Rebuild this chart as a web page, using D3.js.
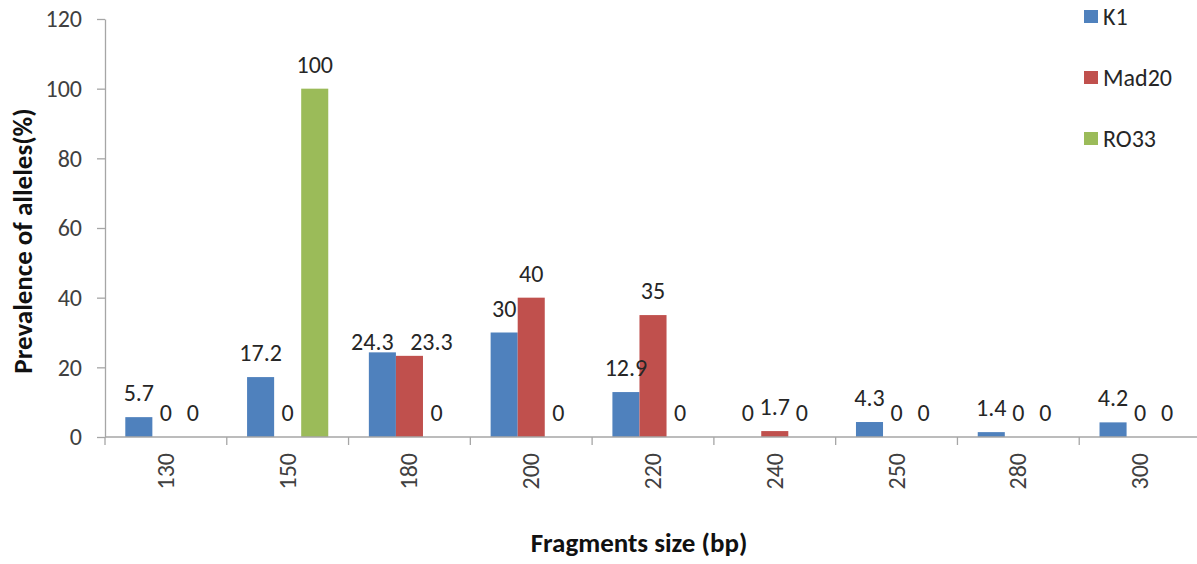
<!DOCTYPE html>
<html>
<head>
<meta charset="utf-8">
<script src="https://cdn.jsdelivr.net/npm/d3@7"></script>
<style>
  html, body { margin: 0; padding: 0; background: #fff; }
  svg { display: block; font-family: Carlito, Lato, "Open Sans", sans-serif; }
</style>
</head>
<body>
<svg id="chart" width="1197" height="564"></svg>
<script>
// Fragment sizes (bp) and allele prevalence (%) per allelic family
const categories = ["130", "150", "180", "200", "220", "240", "250", "280", "300"];
const seriesNames = ["K1", "Mad20", "RO33"];
const k1Values    = [5.7, 17.2, 24.3, 30, 12.9, 0, 4.3, 1.4, 4.2];
const mad20Values = [0, 0, 23.3, 40, 35, 1.7, 0, 0, 0];
const ro33Values  = [0, 100, 0, 0, 0, 0, 0, 0, 0];
const yTicks = [0, 20, 40, 60, 80, 100, 120];

const colors = { "K1": "#4F81BD", "Mad20": "#C0504D", "RO33": "#9BBB59" };
const valuesBySeries = { "K1": k1Values, "Mad20": mad20Values, "RO33": ro33Values };

// Hand-placed value labels where neighbouring labels would collide
const labelNudge = { "180|K1": [-10, 14], "180|Mad20": [22, 10] };

const textSize = "24px";
const titleSize = "27px";

const svg = d3.select("#chart");
const plotLeft = 105, plotRight = 1201, plotTop = 19, plotBottom = 437;

const x = d3.scaleBand().domain(categories).range([plotLeft, plotRight]).paddingInner(0).paddingOuter(0);
const xs = d3.scaleBand().domain(seriesNames).range([0, x.bandwidth()]).paddingInner(0).paddingOuter(0.75);
const y = d3.scaleLinear().domain([0, 120]).range([plotBottom, plotTop]);

const axisColor = "#A6A6A6";

// Y axis
const yAxis = svg.append("g")
  .attr("transform", `translate(${plotLeft},0)`)
  .call(d3.axisLeft(y).tickValues(yTicks).tickSize(8).tickPadding(15).tickSizeOuter(0));
yAxis.select(".domain").attr("stroke", axisColor).attr("stroke-width", 1.3);
yAxis.selectAll(".tick line").attr("stroke", axisColor).attr("stroke-width", 1.3);
yAxis.selectAll(".tick text").attr("fill", "#404040").style("font-size", textSize).style("font-family", "Carlito, Lato, sans-serif");

// Bars
const rows = [];
categories.forEach((c, i) => {
  seriesNames.forEach(s => rows.push({ cat: c, series: s, value: valuesBySeries[s][i] }));
});

svg.append("g").selectAll("rect")
  .data(rows.filter(d => d.value > 0))
  .join("rect")
  .attr("x", d => x(d.cat) + xs(d.series))
  .attr("width", xs.bandwidth())
  .attr("y", d => y(d.value))
  .attr("height", d => y(0) - y(d.value))
  .attr("fill", d => colors[d.series]);

// X axis line and category boundary ticks
const xAxisG = svg.append("g");
xAxisG.append("line")
  .attr("x1", plotLeft).attr("x2", plotRight)
  .attr("y1", y(0)).attr("y2", y(0))
  .attr("stroke", axisColor).attr("stroke-width", 1.3);
const boundaries = categories.map(c => x(c)).concat([x(categories[categories.length - 1]) + x.bandwidth()]);
xAxisG.selectAll("line.tick")
  .data(boundaries)
  .join("line")
  .attr("class", "tick")
  .attr("x1", d => d).attr("x2", d => d)
  .attr("y1", y(0)).attr("y2", y(0) + 8)
  .attr("stroke", axisColor).attr("stroke-width", 1.3);

// Rotated category labels
xAxisG.selectAll("text")
  .data(categories)
  .join("text")
  .attr("transform", d => `translate(${x(d) + x.bandwidth() / 2 + 8},${y(0) + 16}) rotate(-90)`)
  .attr("text-anchor", "end")
  .attr("fill", "#404040")
  .style("font-size", textSize)
  .text(d => d);

// Value labels
svg.append("g").selectAll("text")
  .data(rows)
  .join("text")
  .attr("x", d => x(d.cat) + xs(d.series) + xs.bandwidth() / 2 + (labelNudge[d.cat + "|" + d.series] || [0, 0])[0])
  .attr("y", d => y(d.value) - 16 + (labelNudge[d.cat + "|" + d.series] || [0, 0])[1])
  .attr("text-anchor", "middle")
  .attr("fill", "#262626")
  .style("font-size", textSize)
  .text(d => d.value);

// Axis titles
svg.append("text")
  .attr("transform", `translate(32,241) rotate(-90)`)
  .attr("text-anchor", "middle")
  .attr("fill", "#111")
  .style("font-size", titleSize)
  .style("font-weight", "bold")
  .text("Prevalence of alleles(%)");

svg.append("text")
  .attr("x", 639).attr("y", 552)
  .attr("text-anchor", "middle")
  .attr("fill", "#111")
  .style("font-size", titleSize)
  .style("font-weight", "bold")
  .text("Fragments size (bp)");

// Legend
const legend = svg.append("g").attr("transform", "translate(1084,10)");
const li = legend.selectAll("g")
  .data(seriesNames)
  .join("g")
  .attr("transform", (d, i) => `translate(0,${i * 61})`);
li.append("rect").attr("width", 14).attr("height", 13).attr("fill", d => colors[d]);
li.append("text")
  .attr("x", 19).attr("y", 15)
  .attr("fill", "#262626")
  .style("font-size", textSize)
  .text(d => d);
</script>
</body>
</html>
